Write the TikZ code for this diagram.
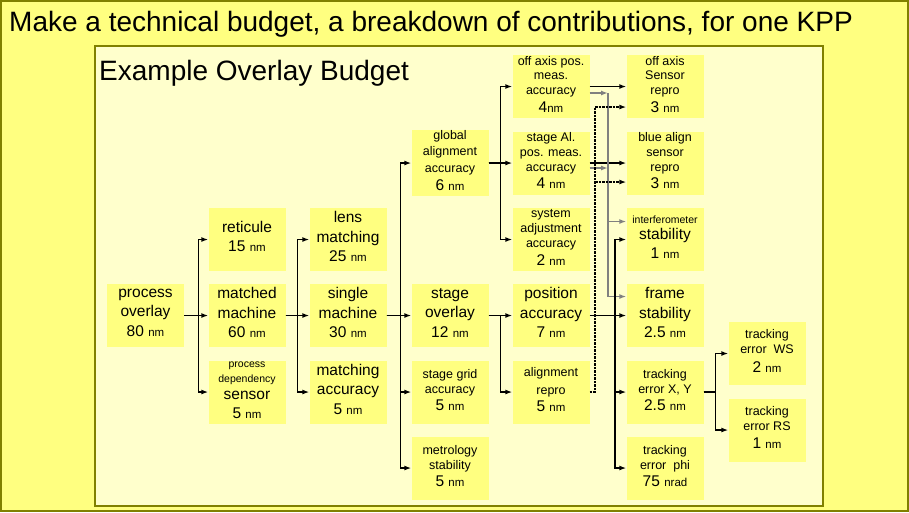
\documentclass[tikz,border=0pt]{standalone}
\usepackage{fontspec}
\setmainfont{Liberation Sans}
\usetikzlibrary{arrows.meta}

\definecolor{pageyellow}{HTML}{FFFF80}
\definecolor{panelyellow}{HTML}{FFFFCC}
\definecolor{boxyellow}{HTML}{FFFF80}
\definecolor{edgeolive}{HTML}{808000}

% sizes that keep the leading of the box
\newcommand{\szL}{\fontsize{15.5}{\baselineskip}\selectfont}
\newcommand{\szS}{\fontsize{12.5}{\baselineskip}\selectfont}
\newcommand{\szT}{\fontsize{10.5}{\baselineskip}\selectfont}
\newcommand{\szU}{\fontsize{11.5}{\baselineskip}\selectfont}

\begin{document}
\begin{tikzpicture}[x=1pt, y=-1pt, >={Latex[length=7pt,width=5pt]},
    budget/.style={fill=boxyellow, minimum width=77pt, minimum height=63pt, inner sep=0pt,
      align=center, font=\fontsize{15.5}{19.5}\selectfont,
      execute at begin node=\strut, execute at end node=\strut},
    lead/.style={font=\fontsize{15.5}{#1}\selectfont},
    link/.style={->, line width=1.4pt},
    graylink/.style={->, line width=1.4pt, draw=gray},
    dotlink/.style={->, line width=2pt, dash pattern=on 2.5pt off 1pt}]
    \useasboundingbox (0,0) rectangle (909,512);
    \draw[edgeolive, line width=2pt, fill=pageyellow] (1,1) rectangle (908,511);
    \draw[edgeolive, line width=1.5pt, fill=panelyellow] (95,46) rectangle (823,506);
    \node[anchor=base west, inner sep=0pt, font=\fontsize{28}{32}\selectfont] (title) at (9,31)
      {Make a technical budget, a breakdown of contributions, for one KPP};
    \node[anchor=base west, inner sep=0pt, font=\fontsize{28}{32}\selectfont] (example) at (99,80)
      {Example Overlay Budget};

    % column 1 to 3
    \node[budget] (proc) at (145.5,315.5) {process\\overlay\\80 \szU nm};
    \node[budget] (ret)  at (247,239.5) {reticule\\15 \szU nm};
    \node[budget] (mm)   at (247,315.5) {matched\\machine\\60 \szU nm};
    \node[budget,lead=15] (pds) at (247,392) {\szT process\\\szT dependency\\[2pt]sensor\\[4pt]5 \szU nm};
    \node[budget] (lens) at (348,239.5) {lens\\matching\\25 \szU nm};
    \node[budget] (sm)   at (348,315.5) {single\\machine\\30 \szU nm};
    \node[budget] (macc) at (348,392) {matching\\accuracy\\5 \szU nm};

    % column 4
    \node[budget,lead=16.5] (gaa) at (450,163) {\szS global\\\szS alignment\\\szS accuracy\\[2pt]6 \szU nm};
    \node[budget] (so)   at (450,315.5) {stage\\overlay\\12 \szU nm};
    \node[budget,lead=15] (sga)  at (450,392) {\szS stage grid\\\szS accuracy\\[2pt]5 \szU nm};
    \node[budget,lead=15] (mets) at (450,468) {\szS metrology\\\szS stability\\[2pt]5 \szU nm};

    % column 5
    \node[budget,lead=14.5] (oapm) at (551,86.5) {\szS off axis pos.\\\szS meas.\\\szS accuracy\\[3.5pt]4\szU nm};
    \node[budget,lead=15] (sapm) at (551,163) {\szS stage Al.\\\szS pos. meas.\\\szS accuracy\\[2pt]4 \szU nm};
    \node[budget,lead=15] (sys)  at (551,239.5) {\szS system\\\szS adjustment\\\szS accuracy\\[3pt]2 \szU nm};
    \node[budget] (pa)   at (551,315.5) {position\\accuracy\\7 \szU nm};
    \node[budget,lead=18] (ar)   at (551,392) {\szS alignment\\\szS repro\\[-1pt]5 \szU nm};

    % column 6
    \node[budget,lead=14.5] (oasr) at (665,86.5) {\szS off axis\\\szS Sensor\\\szS repro\\[3.5pt]3 \szU nm};
    \node[budget,lead=15] (basr) at (665,163) {\szS blue align\\\szS sensor\\\szS repro\\[2pt]3 \szU nm};
    \node[budget,lead=18] (ifs)  at (665,239.5) {\szT interferometer\\[-2pt]stability\\[1pt]1 \szU nm};
    \node[budget] (fs)   at (665,315.5) {frame\\stability\\2.5 \szU nm};
    \node[budget,lead=15] (texy) at (665,392) {\szS tracking\\\szS error X, Y\\[2pt]2.5 \szU nm};
    \node[budget,lead=15] (tephi) at (665,468) {\szS tracking\\\szS error~ phi\\[2pt]75 \szU nrad};

    % column 7
    \node[budget,lead=15] (tews) at (767,353.5) {\szS tracking\\\szS error~ WS\\[4pt]2 \szU nm};
    \node[budget,lead=15] (ters) at (767,430) {\szS tracking\\\szS error RS\\[3pt]1 \szU nm};

    % tree connectors
    \draw[link] (proc.east) -- ++(14,0) |- (ret.west);
    \draw[link] (proc.east) -- (mm.west);
    \draw[link] (proc.east) -- ++(14,0) |- (pds.west);
    \draw[link] (mm.east) -- ++(12,0) |- (lens.west);
    \draw[link] (mm.east) -- (sm.west);
    \draw[link] (mm.east) -- ++(12,0) |- (macc.west);
    \draw[link] (sm.east) -- ++(14,0) |- (gaa.west);
    \draw[link] (sm.east) -- (so.west);
    \draw[link] (sm.east) -- ++(14,0) |- (sga.west);
    \draw[link] (sm.east) -- ++(14,0) |- (mets.west);
    \draw[link] (gaa.east) -- ++(12,0) |- (oapm.west);
    \draw[link] (gaa.east) -- (sapm.west);
    \draw[link] (gaa.east) -- ++(12,0) |- (sys.west);
    \draw[link] (so.east) -- (pa.west);
    \draw[link] (so.east) -- ++(12,0) |- (ar.west);

    % cross links into column 6
    \coordinate (dbus) at (595,0);
    \coordinate (gbus) at (608,0);
    \coordinate (pbus) at (615,0);
    \draw[link] (oapm.east) -- (oasr.west);
    \draw[link] (sapm.east) -- (basr.west);
    \draw[graylink] ([yshift=-6.5pt]oapm.east) -- ([yshift=-6.5pt]oapm.east -| gbus);
    \draw[graylink] ([yshift=-5pt]sapm.east) -- ([yshift=-5pt]sapm.east -| gbus);
    \draw[graylink] ([yshift=-6.5pt]oapm.east -| gbus) |- ([yshift=18pt]ifs.west);
    \draw[graylink] ([yshift=-6.5pt]oapm.east -| gbus) |- ([yshift=19pt]fs.west);
    \draw[dotlink] (ar.east) -- (ar.east -| dbus) |- ([yshift=-20.5pt]oasr.west);
    \draw[dotlink] ([yshift=-19pt]basr.west -| dbus) -- ([yshift=-19pt]basr.west);
    \draw[link] (pa.east) -- (fs.west);
    \draw[link] (pa.east -| pbus) |- (ifs.west);
    \draw[link] (pa.east -| pbus) |- (texy.west);
    \draw[link] (pa.east -| pbus) |- (tephi.west);
    \draw[link] (texy.east) -- ++(12,0) |- (tews.west);
    \draw[link] (texy.east) -- ++(12,0) |- (ters.west);
  \end{tikzpicture}
\end{document}
